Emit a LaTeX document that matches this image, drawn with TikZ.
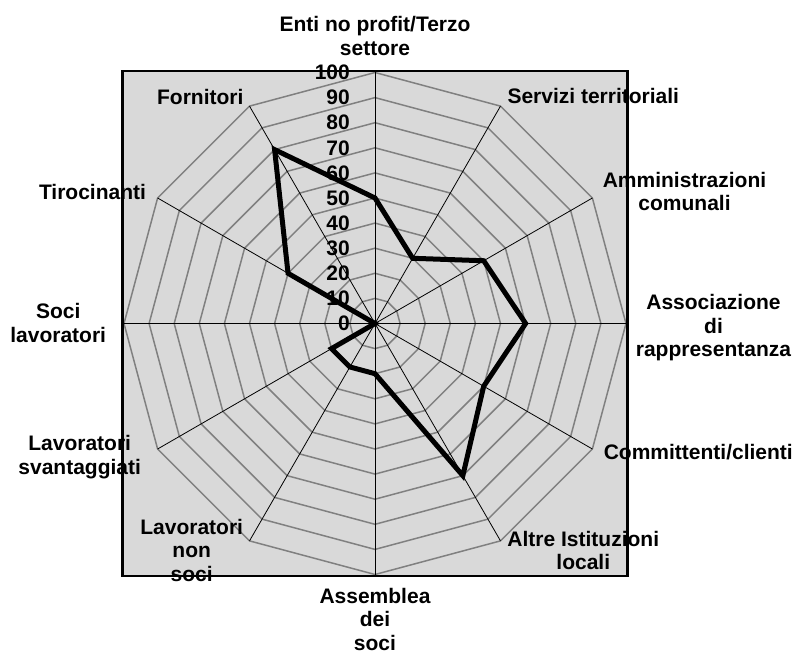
\documentclass[tikz,border=0pt]{standalone}
\usepackage{fontspec}
\setmainfont{Liberation Sans}
\usetikzlibrary{shapes}

\definecolor{plotgray}{RGB}{217,217,217}
\definecolor{gridgray}{RGB}{128,128,128}

\begin{document}
\begin{tikzpicture}[x=1pt,y=1pt,font=\fontsize{21}{23.5}\selectfont\bfseries,
    ring/.style={shape=regular polygon,regular polygon sides=12,rotate=15,draw=gridgray,line width=1.5pt,inner sep=0pt,outer sep=0pt},
    spoke/.style={draw=black,line width=0.8pt},
    cat/.style={align=center,inner sep=0pt},
    tick/.style={anchor=east,inner sep=0pt}]
                \useasboundingbox (-375,-330.5) rectangle (422,323.5);
                \fill[plotgray] (-252.5,-252.5) rectangle (252.5,252.5);
                % rings 10..100
                \node[ring,minimum size=50.2](r10)at(0, 0){};
                \node[ring,minimum size=100.4](r20)at(0, 0){};
                \node[ring,minimum size=150.6](r30)at(0, 0){};
                \node[ring,minimum size=200.8](r40)at(0, 0){};
                \node[ring,minimum size=251](r50)at(0, 0){};
                \node[ring,minimum size=301.2](r60)at(0, 0){};
                \node[ring,minimum size=351.4](r70)at(0, 0){};
                \node[ring,minimum size=401.6](r80)at(0, 0){};
                \node[ring,minimum size=451.8](r90)at(0, 0){};
                \node[ring,minimum size=502](r100)at(0, 0){};
                % axis ends
                \coordinate (c) at (0, 0);
                \coordinate (a1) at (90:251);
                \coordinate (a2) at (60:251);
                \coordinate (a3) at (30:251);
                \coordinate (a4) at (0:251);
                \coordinate (a5) at (-30:251);
                \coordinate (a6) at (-60:251);
                \coordinate (a7) at (-90:251);
                \coordinate (a8) at (-120:251);
                \coordinate (a9) at (-150:251);
                \coordinate (a10) at (180:251);
                \coordinate (a11) at (150:251);
                \coordinate (a12) at (120:251);
                \path[spoke](c) edge (a1) (c) edge (a2) (c) edge (a3) (c) edge (a4)
                (c) edge (a5) (c) edge (a6) (c) edge (a7) (c) edge (a8)
                (c) edge (a9) (c) edge (a10) (c) edge (a11) (c) edge (a12);
                % values
                \coordinate (v1) at (90:125.5);
                \coordinate (v2) at (60:75.3);
                \coordinate (v3) at (30:125.5);
                \coordinate (v4) at (0:150.6);
                \coordinate (v5) at (-30:125.5);
                \coordinate (v6) at (-60:175.7);
                \coordinate (v7) at (-90:50.2);
                \coordinate (v8) at (-120:50.2);
                \coordinate (v9) at (-150:50.2);
                \coordinate (v10) at (0, 0);
                \coordinate (v11) at (150:100.4);
                \coordinate (v12) at (120:200.8);
                \draw[line width=5pt] (v1) -- (v2) -- (v3) -- (v4) -- (v5) -- (v6) -- (v7)
                -- (v8) -- (v9) -- (v10) -- (v11) -- (v12) -- cycle;
                \draw[line width=2.5pt] (-252.5,-252.5) rectangle (252.5,252.5);
                % scale
                \node[tick](t0)at(-25, 0){0};
                \node[tick](t10)at(-25, 25.1){10};
                \node[tick](t20)at(-25, 50.2){20};
                \node[tick](t30)at(-25, 75.3){30};
                \node[tick](t40)at(-25, 100.4){40};
                \node[tick](t50)at(-25, 125.5){50};
                \node[tick](t60)at(-25, 150.6){60};
                \node[tick](t70)at(-25, 175.7){70};
                \node[tick](t80)at(-25, 200.8){80};
                \node[tick](t90)at(-25, 225.9){90};
                \node[tick](t100)at(-25, 251){100};
                % categories
                \node[cat](enti)at(0, 287.5){Enti no profit/Terzo\\settore};
                \node[cat](servizi)at(218.3, 227.5){Servizi territoriali};
                \node[cat](amministrazioni)at(309.5, 132){Amministrazioni\\comunali};
                \node[cat](associazione)at(338.5, -4.5){Associazione\\di\\rappresentanza};
                \node[cat](committenti)at(323.3, -129){Committenti/clienti};
                \node[cat](altre)at(208.3, -226.8){Altre Istituzioni\\locali};
                \node[cat](assemblea)at(0, -295.5){Assemblea\\dei\\soci};
                \node[cat](nonsoci)at(-183.3, -226.5){Lavoratori\\non\\soci};
                \node[cat](svantaggiati)at(-295.3, -133.5){Lavoratori\\svantaggiati};
                \node[cat](soci)at(-316.8, 0.5){Soci\\lavoratori};
                \node[cat](tirocinanti)at(-282.5, 131.5){Tirocinanti};
                \node[cat](fornitori)at(-174.7, 226.8){Fornitori};
            \end{tikzpicture}
\end{document}
